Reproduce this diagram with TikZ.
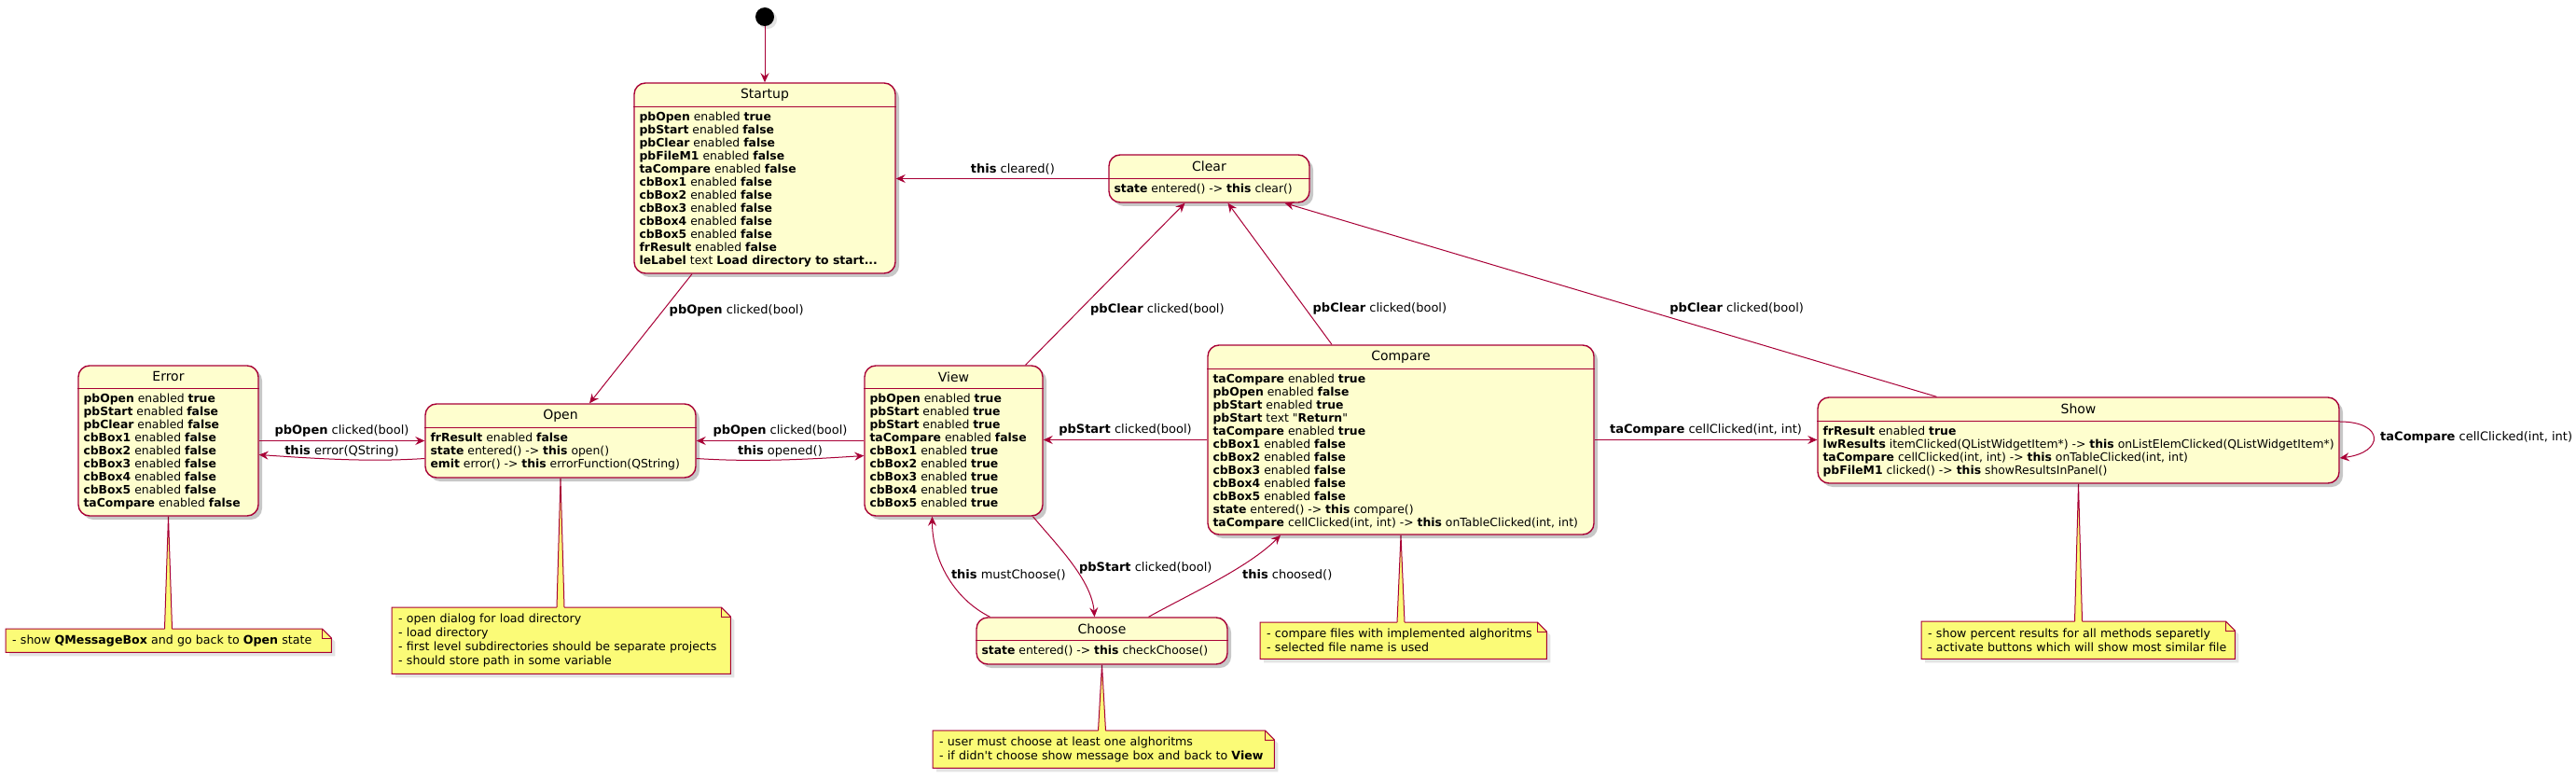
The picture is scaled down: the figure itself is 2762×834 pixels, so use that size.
\documentclass[tikz,border=0pt]{standalone}
\usepackage{fontspec}
\setmainfont{DejaVu Sans}[Ligatures=TeXOff]
\usetikzlibrary{positioning,arrows.meta,shadows,backgrounds}
\definecolor{stateFill}{HTML}{FEFECE}
\definecolor{stateLine}{HTML}{A80036}
\definecolor{noteFill}{HTML}{FBFB77}

\begin{document}
\begin{tikzpicture}[x=1pt, y=-1pt,
    every node/.style={inner sep=0pt, font=\fontsize{13}{15}\selectfont},
    stbox/.style={draw=stateLine, fill=stateFill, line width=1.4pt,
                  rounded corners=12pt,
                  drop shadow={shadow xshift=4pt, shadow yshift=-4pt,
                               fill=black, opacity=0.22}},
    stsep/.style={draw=stateLine, line width=1.4pt},
    sttitle/.style={font=\fontsize{14}{16}\selectfont},
    stbody/.style={anchor=north west, align=left,
                   font=\fontsize{12.4}{14}\selectfont},
    note/.style={anchor=north west, align=left, inner xsep=7pt,
                 font=\fontsize{12.6}{15}\selectfont},
    noteline/.style={draw=stateLine, line width=1pt},
    arr/.style={draw=stateLine, line width=1pt,
                -{Stealth[length=10pt, width=9pt, inset=3.5pt]}},
    lbl/.style={font=\fontsize{13}{15}\selectfont}]
  \useasboundingbox (0,0) rectangle (2762,834);

  % states
  \node[circle, fill=black, minimum size=20pt,
        drop shadow={shadow xshift=3pt, shadow yshift=-3pt, opacity=0.22}] (init) at (820,18) {};

  \node[stbox, minimum width=280, minimum height=204] (startup) at (820,191) {};
  \node[sttitle] (startupT) at ([yshift=-13pt]startup.north) {Startup};
  \node[stbody] (startupB) at ([xshift=6pt,yshift=-32pt]startup.north west)
    {\textbf{pbOpen} enabled \textbf{true}\\
     \textbf{pbStart} enabled \textbf{false}\\
     \textbf{pbClear} enabled \textbf{false}\\
     \textbf{pbFileM1} enabled \textbf{false}\\
     \textbf{taCompare} enabled \textbf{false}\\
     \textbf{cbBox1} enabled \textbf{false}\\
     \textbf{cbBox2} enabled \textbf{false}\\
     \textbf{cbBox3} enabled \textbf{false}\\
     \textbf{cbBox4} enabled \textbf{false}\\
     \textbf{cbBox5} enabled \textbf{false}\\
     \textbf{frResult} enabled \textbf{false}\\
     \textbf{leLabel} text \textbf{Load directory to start...}};

  \node[stbox, minimum width=215, minimum height=51] (clear) at (1296.5,191.5) {};
  \node[sttitle] (clearT) at ([yshift=-13pt]clear.north) {Clear};
  \node[stbody] (clearB) at ([xshift=6pt,yshift=-32pt]clear.north west)
    {\textbf{state} entered() -> \textbf{this} clear()};

  \node[stbox, minimum width=193, minimum height=161] (error) at (180.5,472.5) {};
  \node[sttitle] (errorT) at ([yshift=-12.5pt]error.north) {Error};
  \node[stbody] (errorB) at ([xshift=6pt,yshift=-31pt]error.north west)
    {\textbf{pbOpen} enabled \textbf{true}\\
     \textbf{pbStart} enabled \textbf{false}\\
     \textbf{pbClear} enabled \textbf{false}\\
     \textbf{cbBox1} enabled \textbf{false}\\
     \textbf{cbBox2} enabled \textbf{false}\\
     \textbf{cbBox3} enabled \textbf{false}\\
     \textbf{cbBox4} enabled \textbf{false}\\
     \textbf{cbBox5} enabled \textbf{false}\\
     \textbf{taCompare} enabled \textbf{false}};

  \node[stbox, minimum width=290, minimum height=79] (open) at (601,472.5) {};
  \node[sttitle] (openT) at ([yshift=-13pt]open.north) {Open};
  \node[stbody] (openB) at ([xshift=6pt,yshift=-32pt]open.north west)
    {\textbf{frResult} enabled \textbf{false}\\
     \textbf{state} entered() -> \textbf{this} open()\\
     \textbf{emit} error() -> \textbf{this} errorFunction(QString)};

  \node[stbox, minimum width=191, minimum height=161] (view) at (1022.5,472.5) {};
  \node[sttitle] (viewT) at ([yshift=-12.5pt]view.north) {View};
  \node[stbody] (viewB) at ([xshift=6pt,yshift=-31pt]view.north west)
    {\textbf{pbOpen} enabled \textbf{true}\\
     \textbf{pbStart} enabled \textbf{true}\\
     \textbf{pbStart} enabled \textbf{true}\\
     \textbf{taCompare} enabled \textbf{false}\\
     \textbf{cbBox1} enabled \textbf{true}\\
     \textbf{cbBox2} enabled \textbf{true}\\
     \textbf{cbBox3} enabled \textbf{true}\\
     \textbf{cbBox4} enabled \textbf{true}\\
     \textbf{cbBox5} enabled \textbf{true}};

  \node[stbox, minimum width=414, minimum height=203] (compare) at (1502,471.5) {};
  \node[sttitle] (compareT) at ([yshift=-13pt]compare.north) {Compare};
  \node[stbody] (compareB) at ([xshift=6pt,yshift=-32pt]compare.north west)
    {\textbf{taCompare} enabled \textbf{true}\\
     \textbf{pbOpen} enabled \textbf{false}\\
     \textbf{pbStart} enabled \textbf{true}\\
     \textbf{pbStart} text "\textbf{Return}"\\
     \textbf{taCompare} enabled \textbf{true}\\
     \textbf{cbBox1} enabled \textbf{false}\\
     \textbf{cbBox2} enabled \textbf{false}\\
     \textbf{cbBox3} enabled \textbf{false}\\
     \textbf{cbBox4} enabled \textbf{false}\\
     \textbf{cbBox5} enabled \textbf{false}\\
     \textbf{state} entered() -> \textbf{this} compare()\\
     \textbf{taCompare} cellClicked(int, int) -> \textbf{this} onTableClicked(int, int)};

  \node[stbox, minimum width=559, minimum height=92] (show) at (2228.5,472) {};
  \node[sttitle] (showT) at ([yshift=-13pt]show.north) {Show};
  \node[stbody] (showB) at ([xshift=6pt,yshift=-32pt]show.north west)
    {\textbf{frResult} enabled \textbf{true}\\
     \textbf{lwResults} itemClicked(QListWidgetItem*) -> \textbf{this} onListElemClicked(QListWidgetItem*)\\
     \textbf{taCompare} cellClicked(int, int) -> \textbf{this} onTableClicked(int, int)\\
     \textbf{pbFileM1} clicked() -> \textbf{this} showResultsInPanel()};

  \node[stbox, minimum width=269, minimum height=50] (choose) at (1181.5,687) {};
  \node[sttitle] (chooseT) at ([yshift=-12.5pt]choose.north) {Choose};
  \node[stbody] (chooseB) at ([xshift=6pt,yshift=-31pt]choose.north west)
    {\textbf{state} entered() -> \textbf{this} checkChoose()};

  % separators under the state names
  \foreach \s/\d in {startup/26, clear/26, error/25, open/26, view/25, compare/26, show/26, choose/25}
    \draw[stsep] ([yshift=-\d pt]\s.north west) -- ([yshift=-\d pt]\s.north east);

  % notes
  \node[note, text width=335, minimum height=25] (errNote) at (6,674)
    {- show \textbf{QMessageBox} and go back to \textbf{Open} state};
  \node[note, text width=349, minimum height=71] (openNote) at (420,651)
    {- open dialog for load directory\\
     - load directory\\
     - first level subdirectories should be separate projects\\
     - should store path in some variable};
  \node[note, text width=352, minimum height=40] (chooseNote) at (1000,783)
    {- user must choose at least one alghoritms\\
     - if didn't choose show message box and back to \textbf{View}};
  \node[note, text width=293, minimum height=39] (cmpNote) at (1351,667)
    {- compare files with implemented alghoritms\\
     - selected file name is used};
  \node[note, text width=322, minimum height=40] (showNote) at (2060,666)
    {- show percent results for all methods separetly\\
     - activate buttons which will show most similar file};

  \begin{scope}[on background layer]
    \foreach \n in {errNote, openNote, chooseNote, cmpNote, showNote} {
      \filldraw[noteline, fill=noteFill,
                drop shadow={shadow xshift=4pt, shadow yshift=-4pt, opacity=0.22}]
        (\n.north west) -- ([xshift=-10pt]\n.north east) -- ([yshift=-10pt]\n.north east)
        -- (\n.south east) -- (\n.south west) -- cycle;
      \draw[noteline] ([xshift=-10pt]\n.north east) |- ([yshift=-10pt]\n.north east);
    }
    \foreach \s/\n in {error/errNote, open/openNote, choose/chooseNote, compare/cmpNote, show/showNote} {
      \fill[noteFill] (\s.south) -- ([xshift=-4pt,yshift=-1.5pt]\s.south |- \n.north)
        -- ([xshift=4pt,yshift=-1.5pt]\s.south |- \n.north) -- cycle;
      \draw[noteline] ([xshift=-4pt]\s.south |- \n.north) -- (\s.south)
        -- ([xshift=4pt]\s.south |- \n.north);
    }
  \end{scope}

  % transitions
  \draw[arr] (init) -- (startup);
  \draw[arr] (clear.west) -- (clear.west -| startup.east)
    node[lbl, pos=0.45, above=4pt] {\textbf{this} cleared()};
  \draw[arr] ([xshift=-78pt]startup.south) -- ([xshift=31pt]open.north)
    node[lbl, pos=0.28, right=6pt] {\textbf{pbOpen} clicked(bool)};
  \draw[arr] (error.east) -- (error.east -| open.west)
    node[lbl, midway, above=4pt] {\textbf{pbOpen} clicked(bool)};
  \draw[arr] ([yshift=-19pt]open.west) .. controls +(-60,4) and +(60,4) .. ([yshift=-15pt]error.east)
    node[lbl, midway, above=2pt] {\textbf{this} error(QString)};
  \draw[arr] (view.west) -- (view.west -| open.east)
    node[lbl, midway, above=4pt] {\textbf{pbOpen} clicked(bool)};
  \draw[arr] ([yshift=-19pt]open.east) .. controls +(60,4) and +(-60,4) .. ([yshift=-16pt]view.west)
    node[lbl, midway, above=2pt] {\textbf{this} opened()};
  \draw[arr] (compare.west) -- (compare.west -| view.east)
    node[lbl, midway, above=4pt] {\textbf{pbStart} clicked(bool)};
  \draw[arr] ([xshift=85pt]view.south) .. controls +(25,30) and +(-3,-40) .. ([xshift=-8pt]choose.north)
    node[lbl, pos=0.55, right=4pt] {\textbf{pbStart} clicked(bool)};
  \draw[arr] ([xshift=-120pt]choose.north) .. controls +(-40,-20) and +(0,45) .. ([xshift=-23pt]view.south)
    node[lbl, pos=0.5, right=4pt] {\textbf{this} mustChoose()};
  \draw[arr] ([xshift=50pt]choose.north) .. controls +(45,-25) and +(-35,35) .. ([xshift=-129pt]compare.south)
    node[lbl, pos=0.55, right=18pt] {\textbf{this} choosed()};
  \draw[arr] ([xshift=77pt]view.north) -- ([xshift=-26pt]clear.south)
    node[lbl, pos=0.34, right=11pt] {\textbf{pbClear} clicked(bool)};
  \draw[arr] ([xshift=-74pt]compare.north) -- ([xshift=20pt]clear.south)
    node[lbl, pos=0.25, right=7pt] {\textbf{pbClear} clicked(bool)};
  \draw[arr] ([xshift=-152pt]show.north) -- ([xshift=81pt]clear.south)
    node[lbl, pos=0.41, anchor=south west, yshift=2pt] {\textbf{pbClear} clicked(bool)};
  \draw[arr] (compare.east) -- (compare.east -| show.west)
    node[lbl, midway, above=4pt] {\textbf{taCompare} cellClicked(int, int)};
  \draw[arr] ([yshift=20pt]show.east) .. controls +(48,0) and +(48,-6) .. ([yshift=-19pt]show.east)
    node[lbl, midway, right=7pt] {\textbf{taCompare} cellClicked(int, int)};
\end{tikzpicture}
\end{document}
